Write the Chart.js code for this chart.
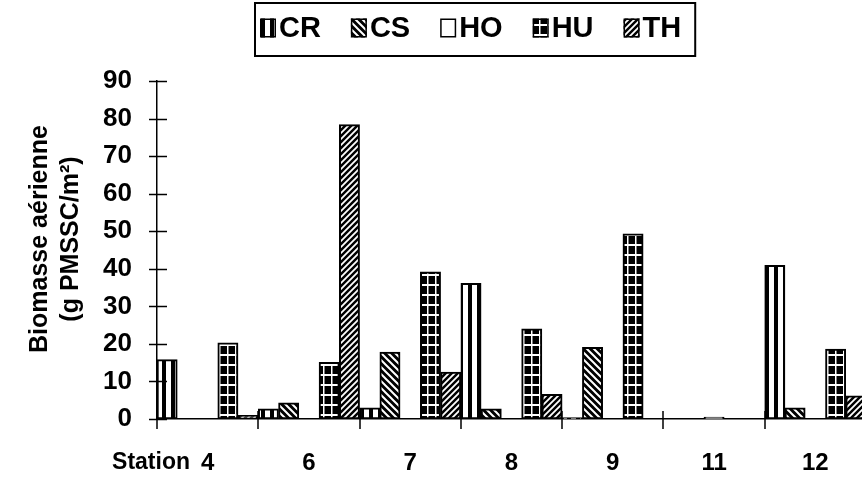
<!DOCTYPE html>
<html>
<head>
<meta charset="utf-8">
<script src="https://cdn.jsdelivr.net/npm/chart.js@4.4.1/dist/chart.umd.min.js"></script>
<style>
  html, body { margin: 0; padding: 0; background: #fff; overflow: hidden; }
  #wrap { width: 870px; height: 482px; }
</style>
</head>
<body>
<div id="wrap"><canvas id="c" width="870" height="482"></canvas></div>
<script>
// Above-ground biomass per station and plant group (g PMSSC/m²)
const stations = ['4', '6', '7', '8', '9', '11', '12'];
const groups = ['CR', 'CS', 'HO', 'HU', 'TH'];
const crValues = [15.8, 2.7, 3.0, 36.1, 0.4, 0, 40.9];
const csValues = [0, 4.3, 17.8, 2.7, 19.1, 0, 3.0];
const hoValues = [0, 0, 0, 0, 0, 0.5, 0];
const huValues = [20.3, 15.1, 39.2, 24.0, 49.3, 0, 18.6];
const thValues = [1.0, 78.4, 12.5, 6.6, 0, 0, 6.2];
const yMin = 0, yMax = 90, yStep = 10;
const yTitleLines = ['Biomasse aérienne', '(g PMSSC/m²)'];
const xCaption = 'Station';

const FONT = '"Liberation Sans", Arial, sans-serif';
const canvas = document.getElementById('c');
const ctx = canvas.getContext('2d');

// Black & white hatch fills
function tile(w, h, paint) {
  const c = document.createElement('canvas');
  c.width = w; c.height = h;
  paint(c.getContext('2d'), w, h);
  return ctx.createPattern(c, 'repeat');
}
function diagonal(s, width, forward) {
  return tile(s, s, (g) => {
    g.fillStyle = '#000'; g.fillRect(0, 0, s, s);
    g.strokeStyle = '#fff'; g.lineWidth = width;
    g.beginPath();
    if (forward) {
      g.moveTo(0, s); g.lineTo(s, 0);
      g.moveTo(-s / 2, s / 2); g.lineTo(s / 2, -s / 2);
      g.moveTo(s / 2, 1.5 * s); g.lineTo(1.5 * s, s / 2);
    } else {
      g.moveTo(0, 0); g.lineTo(s, s);
      g.moveTo(-s / 2, s / 2); g.lineTo(s / 2, 1.5 * s);
      g.moveTo(s / 2, -s / 2); g.lineTo(1.5 * s, s / 2);
    }
    g.stroke();
  });
}
const fills = {
  CR: tile(9, 4, (g, w, h) => { g.fillStyle = '#fff'; g.fillRect(0, 0, w, h); g.fillStyle = '#000'; g.fillRect(0, 0, 4, h); }),
  CS: diagonal(7, 2, false),
  HO: '#ffffff',
  HU: tile(8, 10, (g, w, h) => {
    g.fillStyle = '#000'; g.fillRect(0, 0, w, h);
    g.fillStyle = '#fff'; g.fillRect(3, 0, 1.5, h); g.fillRect(0, 4, w, 2);
  }),
  TH: diagonal(6, 1.8, true)
};

const seriesValues = [crValues, csValues, hoValues, huValues, thValues];

// Crossing tick marks, the rotated y-axis title and the "Station" caption
const axisDecor = {
  id: 'axisDecor',
  afterDraw(chart, args, o) {
    const { ctx, chartArea, scales: { x, y } } = chart;
    ctx.save();
    ctx.strokeStyle = '#000';
    ctx.lineWidth = 1.5;
    ctx.beginPath();
    y.ticks.forEach(t => {
      const py = Math.round(y.getPixelForValue(t.value)) + 0.5;
      ctx.moveTo(chartArea.left - 8, py); ctx.lineTo(chartArea.left + 10, py);
    });
    const half = (x.getPixelForValue(1) - x.getPixelForValue(0)) / 2;
    for (let i = 0; i <= stations.length; i++) {
      const px = Math.round(x.getPixelForValue(i) - half);
      ctx.moveTo(px, chartArea.bottom - 8); ctx.lineTo(px, chartArea.bottom + 10);
    }
    ctx.stroke();

    ctx.fillStyle = '#000';
    ctx.textAlign = 'center';
    ctx.textBaseline = 'middle';
    ctx.font = 'bold 25px ' + FONT;
    const midY = (chartArea.top + chartArea.bottom) / 2 + o.titleShift;
    yTitleLines.forEach((line, i) => {
      ctx.save();
      ctx.translate(o.titleX + i * o.titleGap, midY);
      ctx.rotate(-Math.PI / 2);
      ctx.fillText(line, 0, 0);
      ctx.restore();
    });

    ctx.font = 'bold 23px ' + FONT;
    ctx.textAlign = 'right';
    ctx.fillText(xCaption, chartArea.left + 33, chartArea.bottom + 44);
    ctx.restore();
  }
};

// Framed legend with hatch swatches
const boxLegend = {
  id: 'boxLegend',
  afterDraw(chart, args, o) {
    const { ctx } = chart;
    ctx.save();
    ctx.font = 'bold 29px ' + FONT;
    ctx.textBaseline = 'middle';
    ctx.textAlign = 'left';
    const items = chart.data.datasets.map(ds => ({ text: ds.label, fill: ds.backgroundColor }));
    let w = o.padL + o.padR;
    items.forEach((it, i) => { w += o.box + o.gap + ctx.measureText(it.text).width + (i ? o.spacing : 0); });
    ctx.strokeStyle = '#000'; ctx.lineWidth = 2;
    ctx.strokeRect(o.left, o.top, w, o.height);
    let cx = o.left + o.padL;
    const cy = o.midY;
    items.forEach(it => {
      ctx.fillStyle = it.fill;
      ctx.fillRect(cx, cy - o.boxH / 2, o.box, o.boxH);
      ctx.lineWidth = 1.5;
      ctx.strokeRect(cx + 0.75, cy - o.boxH / 2 + 0.75, o.box - 1.5, o.boxH - 1.5);
      cx += o.box + o.gap;
      ctx.fillStyle = '#000';
      ctx.fillText(it.text, cx, cy + 1);
      cx += ctx.measureText(it.text).width + o.spacing;
    });
    ctx.restore();
  }
};

new Chart(canvas, {
  type: 'bar',
  data: {
    labels: stations,
    datasets: groups.map((g, i) => ({
      label: g,
      data: seriesValues[i],
      backgroundColor: fills[g],
      borderColor: '#000',
      borderWidth: 2,
      borderSkipped: false,
      categoryPercentage: 1.0,
      barPercentage: 1.0
    }))
  },
  options: {
    responsive: false,
    devicePixelRatio: 1,
    animation: false,
    layout: { padding: { top: 81, right: 4, left: 0, bottom: 0 } },
    plugins: {
      legend: { display: false },
      tooltip: { enabled: false },
      axisDecor: { titleX: 40, titleGap: 31, titleShift: -11 },
      boxLegend: { left: 255, top: 3, height: 53, midY: 28, padL: 5, padR: 14, box: 16, boxH: 19, gap: 3, spacing: 30 }
    },
    scales: {
      x: {
        grid: { display: false, drawTicks: false },
        border: { display: true, color: '#000', width: 1.5 },
        ticks: { color: '#000', padding: 30, font: { family: FONT, size: 24, weight: 'bold' } },
        afterFit: (s) => { s.height = 63; }
      },
      y: {
        min: yMin, max: yMax,
        grid: { display: false, drawTicks: false },
        border: { display: true, color: '#000', width: 1.5 },
        ticks: { stepSize: yStep, color: '#000', padding: 25, font: { family: FONT, size: 26, weight: 'bold' } },
        afterFit: (s) => { s.width = 157; }
      }
    }
  },
  plugins: [axisDecor, boxLegend]
});
</script>
</body>
</html>
